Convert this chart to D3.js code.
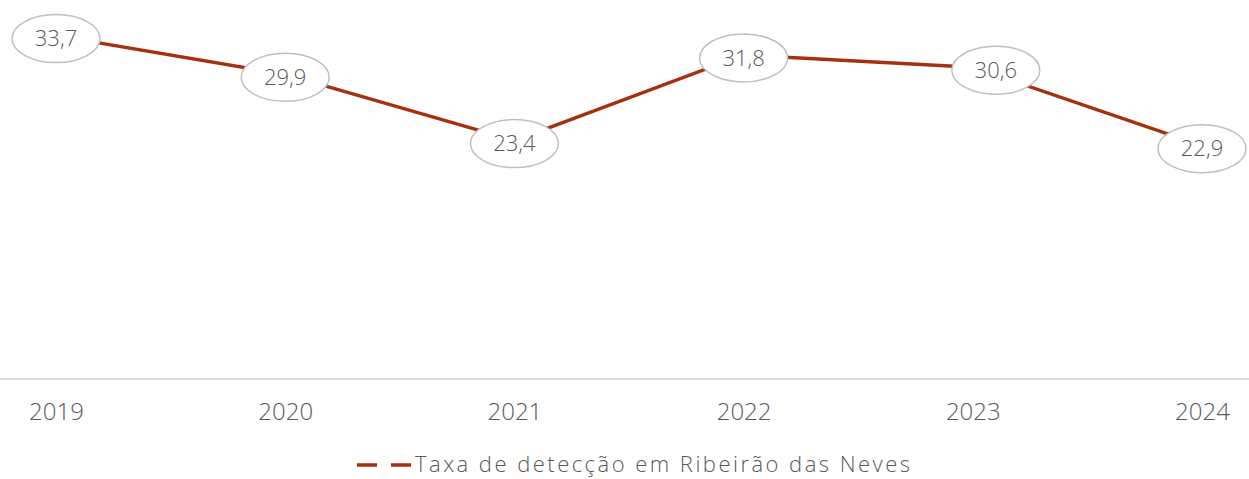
<!DOCTYPE html>
<html>
<head>
<meta charset="utf-8">
<script src="https://cdn.jsdelivr.net/npm/d3@7"></script>
<style>
  body { margin: 0; background: #fff; }
  text { font-family: "Open Sans", "Noto Sans", sans-serif; font-weight: 300; fill: #595959; }
</style>
</head>
<body>
<div id="chart"></div>
<script>
const years = ["2019", "2020", "2021", "2022", "2023", "2024"];
const rates = [33.7, 29.9, 23.4, 31.8, 30.6, 22.9];
const seriesName = "Taxa de detecção em Ribeirão das Neves";

const width = 1249, height = 479;
const margin = { top: 2, right: 0, bottom: 100, left: 0 };
const lineColor = "#a5300f";

const svg = d3.select("#chart").append("svg")
    .attr("width", width)
    .attr("height", height);

const x = d3.scalePoint()
    .domain(years)
    .range([56, 1202]);

const y = d3.scaleLinear()
    .domain([0, 37])
    .range([height - margin.bottom, margin.top]);

// baseline axis
const xAxis = d3.axisBottom(x).tickSize(0).tickPadding(24);
const gx = svg.append("g")
    .attr("transform", `translate(0,${y(0)})`)
    .call(xAxis);
gx.select(".domain").remove();
gx.selectAll("text")
    .style("font-size", "24px")
    .style("font-family", null)
    .attr("fill", "#595959");
svg.append("line")
    .attr("x1", 0).attr("x2", width)
    .attr("y1", y(0)).attr("y2", y(0))
    .attr("stroke", "#d9d9d9").attr("stroke-width", 2);

const data = years.map((d, i) => ({ year: d, value: rates[i] }));

const line = d3.line()
    .x(d => x(d.year))
    .y(d => y(d.value));

svg.append("path")
    .datum(data)
    .attr("d", line)
    .attr("fill", "none")
    .attr("stroke", lineColor)
    .attr("stroke-width", 3.5);

// data labels (the 2023 one sits a bit to the right in the original)
const fmt = v => d3.format(".1f")(v).replace(".", ",");
const labels = svg.selectAll(".lbl")
    .data(data)
    .enter().append("g")
    .attr("class", "lbl")
    .attr("transform", d => `translate(${x(d.year) + (d.year === "2023" ? 23 : 0)},${y(d.value) + 3})`);

labels.append("ellipse")
    .attr("rx", 44).attr("ry", 24)
    .attr("fill", "#fff")
    .attr("stroke", "#bfbfbf")
    .attr("stroke-width", 1.5);

labels.append("text")
    .attr("text-anchor", "middle")
    .attr("dy", "0.35em")
    .style("font-size", "22px")
    .text(d => fmt(d.value));

// legend
const legend = svg.append("g").attr("transform", "translate(357,465)");
legend.append("line")
    .attr("x1", 0).attr("x2", 55)
    .attr("stroke", lineColor)
    .attr("stroke-width", 3.5)
    .attr("stroke-dasharray", "20,14");
legend.append("text")
    .attr("x", 58)
    .attr("y", -1)
    .attr("dy", "0.35em")
    .style("font-size", "22px")
    .attr("textLength", 495)
    .attr("lengthAdjust", "spacing")
    .text(seriesName);
</script>
</body>
</html>
